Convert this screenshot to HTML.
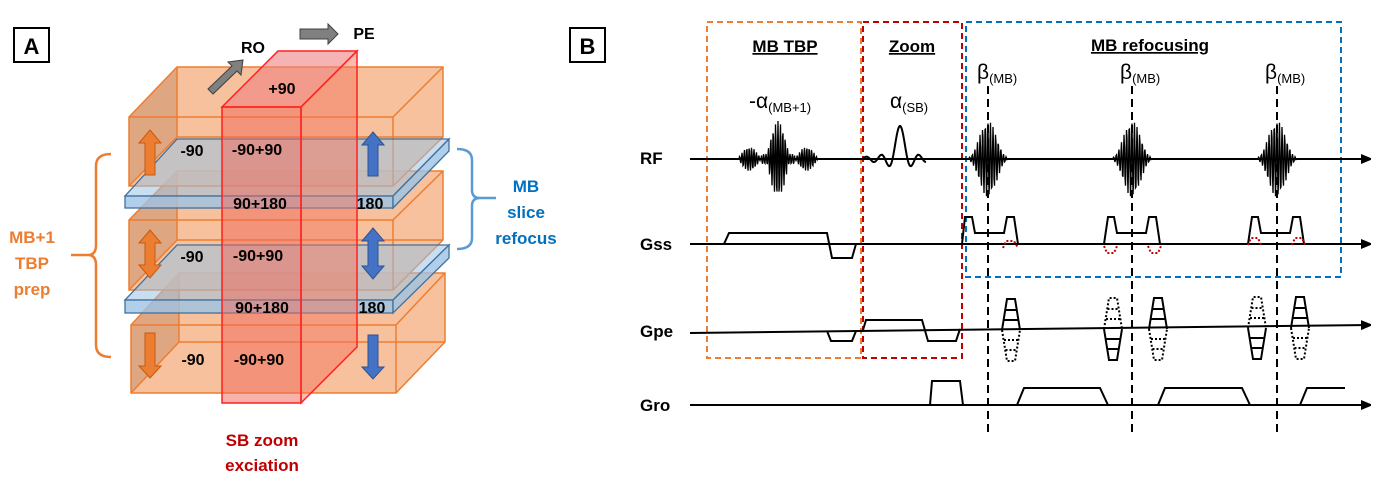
<!DOCTYPE html>
<html><head><meta charset="utf-8"><style>
html,body{margin:0;padding:0;background:#fff}
svg{display:block}
text{font-family:"Liberation Sans",Arial,sans-serif}
</style></head><body>
<svg id="s" width="1386" height="485" viewBox="0 0 1386 485" xmlns="http://www.w3.org/2000/svg">
<defs>
<marker id="ah" markerWidth="10" markerHeight="10" refX="9" refY="5" orient="auto" markerUnits="userSpaceOnUse"><path d="M0,0 L12,5 L0,10 z" fill="#000"/></marker>
</defs>
<rect x="14" y="28" width="35" height="34" fill="#fff" stroke="#000" stroke-width="2"/>
<text x="31.5" y="54" font-size="22" font-weight="bold" text-anchor="middle">A</text>
<rect x="570" y="28" width="35" height="34" fill="#fff" stroke="#000" stroke-width="2"/>
<text x="587.5" y="54" font-size="22" font-weight="bold" text-anchor="middle">B</text>

<g stroke="#ed7d31" stroke-width="1.5" fill-opacity="0.8">
 <polygon points="131,325 179,273 445,273 445,342 396,393 131,393" fill="#f4b183" stroke="none"/>
 <polygon points="131,325 179,273 179,342 131,393" fill="#d9a07a" stroke="none"/>
 <path d="M131,325 L179,273 L445,273 L445,342 L396,393 L131,393 Z M131,325 L396,325 L445,273 M396,325 L396,393 M179,273 L179,342 L445,342 M179,342 L131,393" fill="none"/>
 <polygon points="129,220 177,171 443,171 443,240 393,290 129,290" fill="#f4b183" stroke="none"/>
 <polygon points="129,220 177,171 177,240 129,290" fill="#d9a07a" stroke="none"/>
 <path d="M129,220 L177,171 L443,171 L443,240 L393,290 L129,290 Z M129,220 L393,220 L443,171 M393,220 L393,290 M177,171 L177,240 L443,240 M177,240 L129,290" fill="none"/>
 <polygon points="129,117 177,67 443,67 443,137 393,186 129,186" fill="#f4b183" stroke="none"/>
 <polygon points="129,117 177,67 177,137 129,186" fill="#d9a07a" stroke="none"/>
 <path d="M129,117 L177,67 L443,67 L443,137 L393,186 L129,186 Z M129,117 L393,117 L443,67 M393,117 L393,186 M177,67 L177,137 L443,137 M177,137 L129,186" fill="none"/>
</g>
<g stroke="#41719c" stroke-width="1.3">
 <polygon points="125,196 177,139 449,139 393,196" fill="#9dc3e6" fill-opacity="0.55"/>
 <rect x="125" y="196" width="268" height="12" fill="#9dc3e6" fill-opacity="0.8"/>
 <polygon points="393,196 449,139 449,151 393,208" fill="#9dc3e6" fill-opacity="0.8"/>
 <polygon points="125,300 177,245 449,245 393,300" fill="#9dc3e6" fill-opacity="0.55"/>
 <rect x="125" y="300" width="268" height="13" fill="#9dc3e6" fill-opacity="0.8"/>
 <polygon points="393,300 449,245 449,258 393,313" fill="#9dc3e6" fill-opacity="0.8"/>
</g>
<g stroke="#ff2020" stroke-width="1.5">
 <polygon points="222,107 278,51 357,51 301,107" fill="#f08080" fill-opacity="0.6"/>
 <polygon points="301,107 357,51 357,347 301,403" fill="#f47860" fill-opacity="0.5"/>
 <rect x="222" y="107" width="79" height="296" fill="#f06858" fill-opacity="0.5"/>
</g>
<g fill="#ed7d31" stroke="#c55a11" stroke-width="1">
 <polygon points="150,130 161,143 155,143 155,175 145,175 145,143 139,143"/>
 <polygon points="150,230 161,243 155,243 155,265 161,265 150,278 139,265 145,265 145,243 139,243"/>
 <polygon points="145,333 155,333 155,366 161,366 150,378 139,366 145,366"/>
</g>
<g fill="#4472c4" stroke="#2f528f" stroke-width="1">
 <polygon points="373,132 384,145 378,145 378,176 368,176 368,145 362,145"/>
 <polygon points="373,228 384,241 378,241 378,266 384,266 373,279 362,266 368,266 368,241 362,241"/>
 <polygon points="368,335 378,335 378,367 384,367 373,379 362,367 368,367"/>
</g>
<polygon points="208,89 232,66 228,62 243,60 241,75 237,71 213,94" fill="#808080" stroke="#404040" stroke-width="1"/>
<polygon points="300,29 328,29 328,24 338,34 328,44 328,39 300,39" fill="#808080" stroke="#404040" stroke-width="1"/>
<g font-size="16" font-weight="bold" fill="#000" text-anchor="middle">
 <text x="253" y="53">RO</text>
 <text x="364" y="39">PE</text>
 <text x="282" y="94">+90</text>
 <text x="192" y="156">-90</text>
 <text x="257" y="155">-90+90</text>
 <text x="260" y="209">90+180</text>
 <text x="370" y="209">180</text>
 <text x="192" y="262">-90</text>
 <text x="258" y="261">-90+90</text>
 <text x="262" y="313">90+180</text>
 <text x="372" y="313">180</text>
 <text x="193" y="365">-90</text>
 <text x="259" y="365">-90+90</text>
</g>
<path d="M111,154 Q96,154 96,166 L96,245 Q96,255 88,255 L71,255 M88,255 Q96,255 96,265 L96,345 Q96,357 111,357" fill="none" stroke="#ed7d31" stroke-width="2.5"/>
<path d="M457,149 Q472,149 472,160 L472,190 Q472,198 480,198 L496,198 M480,198 Q472,198 472,206 L472,238 Q472,249 457,249" fill="none" stroke="#5b9bd5" stroke-width="2.5"/>
<g font-size="17" font-weight="bold" text-anchor="middle">
 <text x="32" y="243" fill="#ed7d31">MB+1</text>
 <text x="32" y="269" fill="#ed7d31">TBP</text>
 <text x="32" y="295" fill="#ed7d31">prep</text>
 <text x="526" y="192" fill="#0070c0">MB</text>
 <text x="526" y="218" fill="#0070c0">slice</text>
 <text x="526" y="244" fill="#0070c0">refocus</text>
 <text x="262" y="446" fill="#c00000">SB zoom</text>
 <text x="262" y="471" fill="#c00000">exciation</text>
</g>

<g fill="none" stroke-width="2" stroke-dasharray="6,4">
 <rect x="707" y="22" width="154" height="336" stroke="#ed7d31"/>
 <rect x="863" y="22" width="99" height="336" stroke="#c00000"/>
 <rect x="966" y="22" width="375" height="255" stroke="#0070c0"/>
</g>
<g font-size="17" font-weight="bold" text-anchor="middle" text-decoration="underline">
 <text x="785" y="52">MB TBP</text>
 <text x="912" y="52">Zoom</text>
 <text x="1150" y="51">MB refocusing</text>
</g>
<g font-size="21">
 <text x="977" y="79">β<tspan font-size="13" dy="4">(MB)</tspan></text>
 <text x="1120" y="79">β<tspan font-size="13" dy="4">(MB)</tspan></text>
 <text x="1265" y="79">β<tspan font-size="13" dy="4">(MB)</tspan></text>
 <text x="749" y="108">-α<tspan font-size="13" dy="4">(MB+1)</tspan></text>
 <text x="890" y="108">α<tspan font-size="13" dy="4">(SB)</tspan></text>
</g>
<g font-size="17" font-weight="bold">
 <text x="640" y="164">RF</text>
 <text x="640" y="250">Gss</text>
 <text x="640" y="337">Gpe</text>
 <text x="640" y="411">Gro</text>
</g>
<g stroke="#000" stroke-width="2" marker-end="url(#ah)">
 <line x1="690" y1="159" x2="1370" y2="159"/>
 <line x1="690" y1="244" x2="1370" y2="244"/>
 <line x1="690" y1="333" x2="1370" y2="325"/>
 <line x1="690" y1="405" x2="1370" y2="405"/>
</g>
<g stroke="#000" stroke-width="2" stroke-dasharray="8,5">
 <line x1="988" y1="86" x2="988" y2="432"/>
 <line x1="1132" y1="86" x2="1132" y2="432"/>
 <line x1="1277" y1="86" x2="1277" y2="432"/>
</g>
<g id="rf" fill="none" stroke="#000" stroke-width="1.3"></g>
<g fill="none" stroke="#000" stroke-width="2">
 <path d="M724,244 L729,233 L827,233 L832,258 L852,258 L856,244"/>
 <path d="M962,244 L965,217 L972,217 L975,233 L1004,233 L1007,217 L1014,217 L1018,244"/>
 <path d="M1104,244 L1108,217 L1114,217 L1117,233 L1146,233 L1149,217 L1156,217 L1160,244"/>
 <path d="M1248,244 L1252,217 L1258,217 L1261,233 L1290,233 L1293,217 L1300,217 L1304,244"/>
 <path d="M827,331 L831,341 L852,341 L856,331"/>
 <path d="M863,330 L866,320 L922,320 L928,341 L956,341 L960,329"/>
 <path d="M930,405 L932,381 L960,381 L963,405"/>
 <path d="M1017,405 L1024,388 L1100,388 L1108,405"/>
 <path d="M1158,405 L1165,388 L1242,388 L1250,405"/>
 <path d="M1300,405 L1307,388 L1345,388"/>
</g>
<g fill="none" stroke="#c00000" stroke-width="2" stroke-dasharray="2,2">
 <path d="M1003,248 L1006,241 L1014,241 L1018,248"/>
 <path d="M1104,246 L1107,253 L1114,253 L1117,246"/>
 <path d="M1148,246 L1151,253 L1158,253 L1161,246"/>
 <path d="M1248,245 L1251,238 L1258,238 L1261,245"/>
 <path d="M1292,245 L1295,238 L1302,238 L1305,245"/>
</g>
<g id="pe" fill="none" stroke="#000"></g>
</svg>
<script>
(function(){
var ns="http://www.w3.org/2000/svg";
var rf=document.getElementById('rf');
function add(g,d,extra){var p=document.createElementNS(ns,'path');p.setAttribute('d',d);if(extra)for(var k in extra)p.setAttribute(k,extra[k]);g.appendChild(p);}
function burst(x0,x1,env,period,y){var d='M'+x0+','+y;for(var x=x0;x<=x1;x+=0.5){var a=env(x);d+=' L'+x.toFixed(1)+','+(y-a*Math.sin((x-x0)/period*2*Math.PI)).toFixed(1);}add(rf,d);}
burst(739,819,function(x){var c=778,dx=x-c;if(Math.abs(dx)<11)return 34*Math.cos(dx/11*Math.PI/2)+4;if(Math.abs(dx)<17)return 5;if(Math.abs(dx)<40)return 12*Math.sin((Math.abs(dx)-17)/23*Math.PI);return 0;},2.4,159);
var d='M863,159';for(var x=863;x<=926;x+=0.5){var t=(x-900)/7.5;var v=(Math.abs(t)<1e-6)?1:Math.sin(Math.PI*t)/(Math.PI*t);d+=' L'+x+','+(159-33*v).toFixed(1);}add(rf,d,{'stroke-width':'2'});
[988,1132,1277].forEach(function(c){burst(c-19,c+19,function(x){var dx=(x-c)/19;return 36*Math.pow(Math.cos(dx*Math.PI/2),2)+2;},2.6,159);});
var pe=document.getElementById('pe');
function blip(cx,y0,up,dotted){var s=up?-1:1;var top=y0+s*31;var st=dotted?{'stroke-dasharray':'2,2','stroke-width':'2'}:{'stroke-width':'2'};
add(pe,'M'+(cx-9)+','+y0+' L'+(cx-4)+','+top+' L'+(cx+4)+','+top+' L'+(cx+9)+','+y0,st);
add(pe,'M'+(cx-7)+','+(y0+s*10)+' L'+(cx+7)+','+(y0+s*10)+' M'+(cx-5.5)+','+(y0+s*20)+' L'+(cx+5.5)+','+(y0+s*20),st);}
blip(1011,330,true,false);blip(1011,330,false,true);
blip(1113,329,true,true);blip(1113,329,false,false);
blip(1158,329,true,false);blip(1158,329,false,true);
blip(1257,328,true,true);blip(1257,328,false,false);
blip(1300,328,true,false);blip(1300,328,false,true);
})();
</script>
</body></html>
